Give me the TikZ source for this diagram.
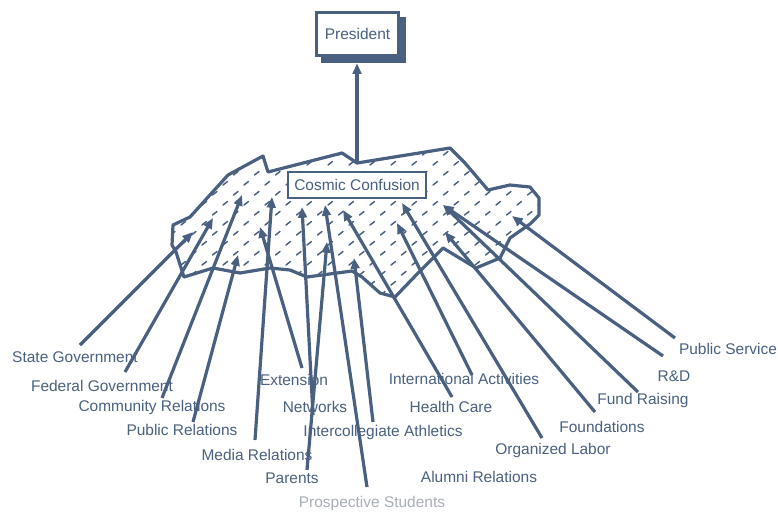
\documentclass[tikz,border=0pt]{standalone}
\usepackage{fontspec}
\setmainfont{Liberation Sans}
\usetikzlibrary{arrows.meta}
\definecolor{ink}{RGB}{74,96,128}
\definecolor{faded}{RGB}{168,174,182}
\newcommand{\lblfont}{\fontsize{11.6pt}{13pt}\selectfont}
\tikzset{
  ln/.style={draw=ink, line width=2.4pt},
  arr/.style={ln, -{Triangle[length=8pt,width=6.5pt]}},
  lbl/.style={text=ink, font=\lblfont, inner sep=0pt},
  hatchmark/.style={draw=ink, line width=1.1pt, line cap=round},
}
\begin{document}
\begin{tikzpicture}[x=0.75pt,y=-0.75pt]
\useasboundingbox (0,0) rectangle (778,512);

% cloud
\draw[ink, line width=2.4pt, line join=round, fill=white,
  path picture={
    \foreach \j in {0,...,16}{
      \foreach \i in {0,...,19}{
        \pgfmathsetmacro{\xx}{160+\i*21+mod(\j,2)*10.5}
        \pgfmathsetmacro{\yy}{145+\j*10}
        \draw[hatchmark] (\xx,\yy) -- ++(4.5,-3.5);
      }
    }
  }]
  (263,156) -- (268,172) -- (342,153) -- (357,163) -- (450,148) -- (465,163)
  -- (488,190) -- (510,185) -- (530,187) -- (539,198) -- (539,215) -- (530,224)
  -- (510,238) -- (500,258) -- (476,268) -- (443,248) -- (420,271) -- (395,297)
  -- (380,293) -- (362,277) -- (352,271) -- (307,277) -- (290,270) -- (270,268)
  -- (240,273) -- (213,268) -- (184,277) -- (176,252) -- (172,245) -- (173,225)
  -- (190,217) -- (228,175) -- cycle;
\coordinate (ctop) at (357,163);

% tips
\coordinate (p1) at (193,232);
\coordinate (p2) at (213,218);
\coordinate (p3) at (242,195);
\coordinate (p4) at (238,255);
\coordinate (p5) at (272,197);
\coordinate (p6) at (260,227);
\coordinate (p7) at (302,207);
\coordinate (p8) at (327,242);
\coordinate (p9) at (325,205);
\coordinate (p10) at (354,258);
\coordinate (p11) at (343,210);
\coordinate (p12) at (397,223);
\coordinate (p13) at (402,203);
\coordinate (p14) at (445,232);
\coordinate (p15) at (443,205);
\coordinate (p16) at (443,205);
\coordinate (p17) at (512,216);

% tails
\coordinate (t1) at (80,345);
\coordinate (t2) at (125,372);
\coordinate (t3) at (162,398);
\coordinate (t4) at (193,422);
\coordinate (t5) at (255,440);
\coordinate (t6) at (302,368);
\coordinate (t7) at (313,415);
\coordinate (t8) at (307,470);
\coordinate (t9) at (367,487);
\coordinate (t10) at (373,422);
\coordinate (t11) at (452,397);
\coordinate (t12) at (472,375);
\coordinate (t13) at (542,438);
\coordinate (t14) at (595,412);
\coordinate (t15) at (638,392);
\coordinate (t16) at (663,356);
\coordinate (t17) at (675,338);

\foreach \k in {1,...,17}{
  \draw[arr] (t\k) -- (p\k);
}

% Cosmic Confusion box
\node[draw=ink, line width=1.6pt, fill=white, text=ink, font=\lblfont,
      minimum width=103.5pt, minimum height=19.5pt, inner sep=0pt]
  (cosmic) at (357,185) {Cosmic Confusion};

% President
\node[fill=ink, minimum width=63.75pt, minimum height=34.5pt, inner sep=0pt]
  (pshadow) at (363.5,40) {};
\node[draw=ink, line width=2.4pt, fill=white, text=ink, font=\lblfont,
      minimum width=61.5pt, minimum height=32.25pt, inner sep=0pt]
  (pres) at (357.5,34) {President};
\draw[arr] (ctop) -- (ctop |- pshadow.south);

% labels
\node[lbl] (l1) at (75,357) {State Government};
\node[lbl] (l2) at (102,386) {Federal Government};
\node[lbl] (l3) at (152,407) {Community Relations};
\node[lbl] (l4) at (182,430) {Public Relations};
\node[lbl] (l5) at (257,455) {Media Relations};
\node[lbl] (l6) at (294,380) {Extension};
\node[lbl] (l7) at (315,407) {Networks};
\node[lbl] (l8) at (292,478) {Parents};
\node[lbl, text=faded] (l9) at (372,503) {Prospective Students};
\node[lbl] (l10) at (383,432) {Intercollegiate Athletics};
\node[lbl] (l11) at (451,407) {Health Care};
\node[lbl] (l12) at (464,379) {International Activities};
\node[lbl] (l13) at (553,450) {Organized Labor};
\node[lbl] (l14) at (602,427) {Foundations};
\node[lbl] (l15) at (643,400) {Fund Raising};
\node[lbl] (l16) at (674,376) {R\&D};
\node[lbl] (l17) at (728,349) {Public Service};
\node[lbl] (l18) at (479,477) {Alumni Relations};
\end{tikzpicture}
\end{document}
